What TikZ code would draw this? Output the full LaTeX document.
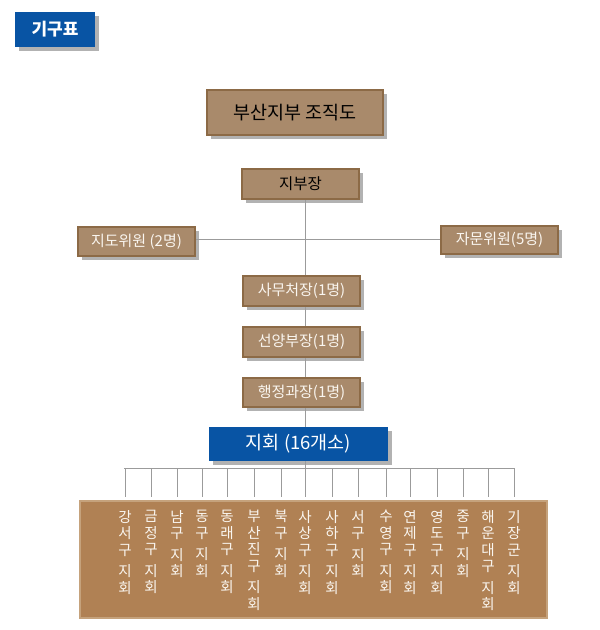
\documentclass[tikz,border=0pt]{standalone}
\usepackage{fontspec}
\setmainfont{Noto Sans CJK KR}
\usetikzlibrary{shadows,calc}
\definecolor{boxfill}{RGB}{169,138,107}
\definecolor{boxline}{RGB}{140,106,70}
\definecolor{bluebox}{RGB}{8,84,164}
\definecolor{lowfill}{RGB}{176,129,84}
\definecolor{lowline}{RGB}{197,162,124}
\definecolor{conn}{RGB}{155,155,155}
\definecolor{lighttext}{RGB}{250,246,240}
\begin{document}
\begin{tikzpicture}[x=1pt,y=-1pt,
  shadowed/.style={drop shadow={shadow xshift=4pt,shadow yshift=-4pt,opacity=.3,fill=black}},
  brownbox/.style={shadowed,draw=boxline,line width=1.5pt,fill=boxfill,inner sep=0pt,
    minimum width=117pt,minimum height=30pt,text=lighttext,font=\fontsize{15}{17}\selectfont},
  bluenode/.style={shadowed,fill=bluebox,inner sep=0pt,text=white},
  conline/.style={draw=conn,line width=0.9pt},
  vcol/.style={anchor=north,inner sep=0pt,align=center,text=lighttext,
    font=\fontsize{14.5}{16.5}\selectfont}]
\useasboundingbox (0,0) rectangle (600,630);
% header label
\node[bluenode,minimum width=80pt,minimum height=35pt,font=\bfseries\fontsize{17}{19}\selectfont] (gigu) at (55,29.5) {기구표};
% title
\node[brownbox,minimum width=176pt,minimum height=45pt,text=black,font=\fontsize{18.5}{21}\selectfont] (title) at (295,112.5) {부산지부 조직도};
% boxes
\node[brownbox,text=black,font=\fontsize{15.5}{17}\selectfont] (jibu) at (300.5,184) {지부장};
\node[brownbox,minimum height=29pt] (jido) at (136.5,241.5) {지도위원 (2명)};
\node[brownbox,minimum height=28pt] (jamun) at (499.5,240) {자문위원(5명)};
\node[brownbox] (samu) at (301.5,291) {사무처장(1명)};
\node[brownbox] (seon) at (301.5,342) {선양부장(1명)};
\node[brownbox,minimum height=29pt] (haeng) at (301.5,392.5) {행정과장(1명)};
\node[bluenode,minimum width=179pt,minimum height=34pt,font=\fontsize{18.5}{21}\selectfont] (jihoe) at (298.5,444) {지회 (16개소)};
% bottom box
\node[draw=lowline,line width=2.5pt,fill=lowfill,minimum width=467pt,minimum height=117pt,inner sep=0pt] (branches) at (313.5,559.5) {};
% connectors
\coordinate (trunk) at (305,0);
\coordinate (hub) at (305,239);
\coordinate (bus) at (305,468);
\coordinate (busL) at (124,468);
\coordinate (busR) at (515,468);
\draw[conline] (jibu.south -| trunk) -- (samu.north -| trunk);
\draw[conline] (jido.east |- hub) -- (jamun.west |- hub);
\draw[conline] (samu.south -| trunk) -- (seon.north -| trunk);
\draw[conline] (seon.south -| trunk) -- (haeng.north -| trunk);
\draw[conline] (haeng.south -| trunk) -- (jihoe.north -| trunk);
\draw[conline] (jihoe.south -| trunk) -- (bus);
\draw[conline] (busL) -- (busR);
% columns
\foreach \x/\t [count=\i] in {
  125/{강\\서\\구\\[5pt]지\\회},
  151/{금\\정\\구\\[5pt]지\\회},
  177/{남\\구\\[5pt]지\\회},
  202/{동\\구\\[5pt]지\\회},
  227/{동\\래\\구\\[5pt]지\\회},
  254/{부\\산\\진\\구\\[5pt]지\\회},
  281/{북\\구\\[5pt]지\\회},
  305/{사\\상\\구\\[5pt]지\\회},
  332/{사\\하\\구\\[5pt]지\\회},
  358/{서\\구\\[5pt]지\\회},
  386/{수\\영\\구\\[5pt]지\\회},
  410/{연\\제\\구\\[5pt]지\\회},
  437/{영\\도\\구\\[5pt]지\\회},
  463/{중\\구\\[5pt]지\\회},
  488/{해\\운\\대\\구\\[5pt]지\\회},
  514/{기\\장\\군\\[5pt]지\\회}} {
  \coordinate (top\i) at (\x,468);
  \coordinate (end\i) at (\x,497);
  \draw[conline] (top\i) -- (end\i);
  \node[vcol] (col\i) at (\x,510) {\t};
}
\end{tikzpicture}
\end{document}
